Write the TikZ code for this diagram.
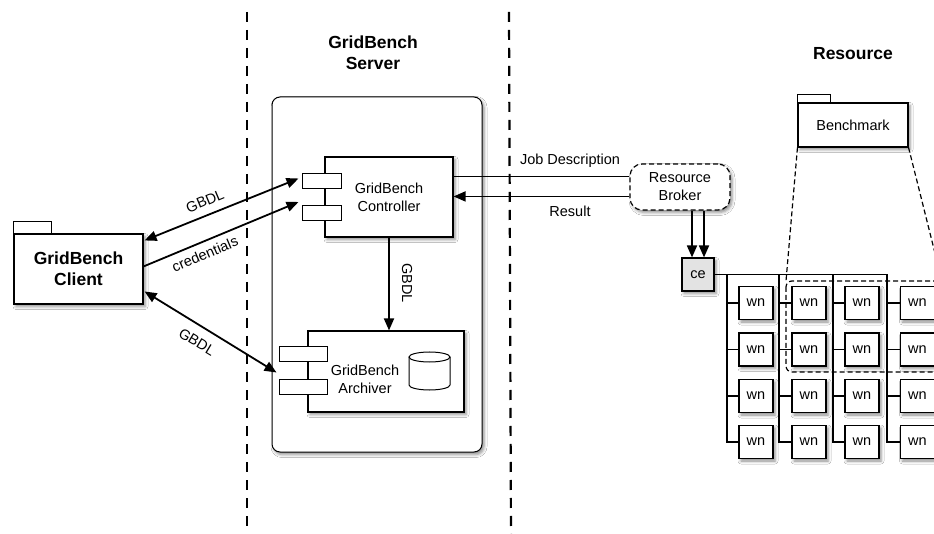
\documentclass[tikz,border=0pt]{standalone}
\usepackage{fontspec}
\setmainfont{Liberation Sans}
\usetikzlibrary{arrows.meta,calc,shadows.blur}
\begin{document}
\begin{tikzpicture}[x=1pt,y=-1pt,
  lbl/.style={font=\fontsize{14.5}{18}\selectfont, align=center, inner sep=0pt},
  blbl/.style={font=\fontsize{17.5}{21}\selectfont\bfseries, align=center, inner sep=0pt},
  shd/.style={blur shadow={shadow xshift=2pt, shadow yshift=-2.5pt, shadow blur radius=3pt, shadow opacity=45}},
  box/.style={draw, line width=1.1pt, fill=white, inner sep=0pt, align=center, font=\fontsize{14.5}{18}\selectfont, shd},
  port/.style={draw, line width=1pt, fill=white, inner sep=0pt, minimum height=15pt},
  tab/.style={draw, line width=1.1pt, fill=white},
  arr/.style={line width=1.8pt, -{Triangle[length=12pt,width=10pt]}},
  darr/.style={line width=1.8pt, {Triangle[length=12pt,width=10pt]}-{Triangle[length=12pt,width=10pt]}},
  sep/.style={line width=2.2pt, dash pattern=on 10pt off 8pt},
  dsh/.style={line width=1.2pt, dash pattern=on 5pt off 3pt},
  net/.style={line width=1.6pt},
]
\useasboundingbox (0,0) rectangle (934,534);
\clip (0,0) rectangle (934,534);
\fill[white] (0,0) rectangle (934,534);

% separators
\coordinate (s1a) at (247,12); \coordinate (s1b) at (247,540);
\coordinate (s2a) at (509,12); \coordinate (s2b) at (511,540);
\draw[sep] (s1a) -- (s1b);
\draw[sep] (s2a) -- (s2b);

% titles
\node[blbl] (servertitle) at (373,53) {GridBench\\Server};
\node[blbl] (restitle) at (853,54) {Resource};

% server frame
\node[draw, line width=1pt, rounded corners=8pt, fill=white, minimum width=210pt, minimum height=355pt, inner sep=0pt, shd] (server) at (377,274.5) {};

% client
\node[box, minimum width=129pt, minimum height=70pt, font=\fontsize{17.5}{21}\selectfont\bfseries] (client) at (78.5,269) {GridBench\\Client};
\draw[tab] (client.north west) rectangle ++(38,-12);

% controller
\node[box, minimum width=128pt, minimum height=80pt] (ctrl) at (389,197) {GridBench\\Controller};
\node[port, minimum width=39pt] (cp1) at (321.5,181.5) {};
\node[port, minimum width=39pt] (cp2) at (321.5,213) {};

% archiver
\node[box, minimum width=156pt, minimum height=81pt] (arch) at (386,371.5) {};
\node[lbl] (archlbl) at (365,379) {GridBench\\Archiver};
\node[port, minimum width=48pt] (ap1) at (303,354.5) {};
\node[port, minimum width=48pt] (ap2) at (303,386.5) {};
\draw[line width=1pt, fill=white] (409,357) -- (409,385) arc[start angle=180, end angle=0, x radius=20.5, y radius=5] -- (450,357);
\draw[line width=1pt, fill=white] (429.5,357) ellipse[x radius=20.5, y radius=5];

% client connectors
\draw[darr] ($(client.north east)+(1,7)$) -- ($(cp1.west)+(-3,-3)$);
\draw[arr] ($(client.north east)+(0,33)$) -- ($(cp2.north west)+(-3,-3)$);
\draw[darr] ($(client.north east)+(1,58)$) -- ($(ap1.south west)+(-2,10)$);
\node[lbl, rotate=22.6] (l1) at (205,201) {GBDL};
\node[lbl, rotate=22.9] (l2) at (205,254) {credentials};
\node[lbl, rotate=-31] (l3) at (197,342) {GBDL};

% controller -> archiver
\draw[arr] (ctrl.south) -- (ctrl.south |- arch.north);
\node[lbl, rotate=-90] (l4) at (407,283) {GBDL};

% broker
\node[draw, dsh, rounded corners=12pt, fill=white, minimum width=100pt, minimum height=46pt, inner sep=0pt, align=center, font=\fontsize{14.5}{18}\selectfont, shd] (broker) at (680,187) {Resource\\Broker};
\coordinate (jobA) at ($(ctrl.north east)+(0,20)$);
\coordinate (resA) at ($(ctrl.north east)+(0,40)$);
\draw[line width=1.6pt] (jobA) -- (jobA -| broker.west);
\draw[line width=1.6pt, -{Triangle[length=12pt,width=10pt]}] (resA -| broker.west) -- (resA);
\node[lbl] (l5) at (570,161) {Job Description};
\node[lbl] (l6) at (570,211) {Result};

% ce
\node[box, fill=gray!22, minimum width=32pt, minimum height=33pt] (ce) at (698,274.5) {ce};
\coordinate (ceL) at ($(ce.north)+(-6,0)$);
\coordinate (ceR) at ($(ce.north)+(6,0)$);
\draw[arr] (ceL |- broker.south) -- (ceL);
\draw[arr] (ceR |- broker.south) -- (ceR);

% network trunks
\coordinate (t1) at (727,274.5);
\coordinate (t2) at (779,274.5);
\coordinate (t3) at (833,274.5);
\coordinate (t4) at (887,274.5);
\draw[net] (ce.east) -- (t4);
\foreach \c/\cx in {1/756,2/809,3/862,4/917.5} {
  \foreach \r/\ry in {1/303,2/349.5,3/396,4/442} {
    \coordinate (p\c\r) at (\cx,\ry);
  }
}
\foreach \c in {1,2,3,4} {
  \draw[net] (t\c) |- ($(p\c4)+(-17,0)$);
  \foreach \r in {1,2,3} {
    \draw[net] (t\c |- p\c\r) -- ($(p\c\r)+(-17,0)$);
  }
}
\foreach \c in {1,2,3,4} {
  \foreach \r in {1,2,3,4} {
    \node[box, minimum width=34pt, minimum height=33pt] (w\c\r) at (p\c\r) {wn};
  }
}

% benchmark
\node[box, minimum width=110pt, minimum height=44pt] (bench) at (853,125) {Benchmark};
\draw[tab] (bench.north west) rectangle ++(33,-8);
\coordinate (dr1) at (786,281);
\coordinate (dr2) at (942,372);
\draw[dsh, rounded corners=6pt] (dr1) rectangle (dr2);
\draw[dsh] (bench.south west) -- (dr1);
\draw[dsh] (bench.south east) -- (dr1 -| dr2);
\end{tikzpicture}
\end{document}
